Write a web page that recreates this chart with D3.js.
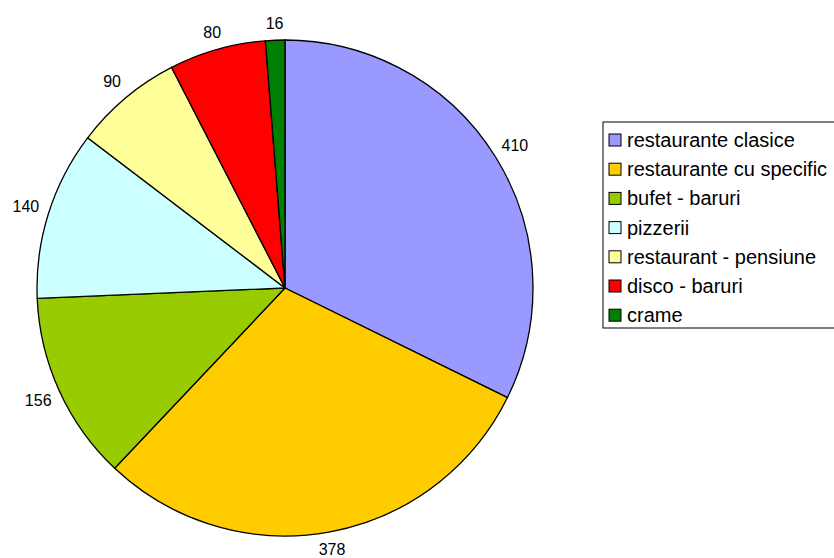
<!DOCTYPE html>
<html>
<head>
<meta charset="utf-8">
<script src="https://cdn.jsdelivr.net/npm/d3@7"></script>
<style>
  body { margin: 0; background: #fff; }
  text { font-family: "Liberation Sans", Arial, sans-serif; fill: #000; }
</style>
</head>
<body>
<div id="chart"></div>
<script>
// Data
const categories = ["restaurante clasice", "restaurante cu specific", "bufet - baruri",
    "pizzerii", "restaurant - pensiune", "disco - baruri", "crame"];
const values = [410, 378, 156, 140, 90, 80, 16];
const colors = ["#9999FF", "#FFCC00", "#99CC00", "#CCFFFF", "#FFFF99", "#FF0000", "#008000"];

const width = 834, height = 558;
const cx = 285, cy = 288, radius = 248;

const data = categories.map((c, i) => ({ name: c, value: values[i], color: colors[i] }));

const svg = d3.select("#chart")
    .append("svg")
    .attr("width", width)
    .attr("height", height);

// Pie slices, starting at 12 o'clock and going clockwise
const pie = d3.pie().value(d => d.value).sort(null);
const arc = d3.arc().innerRadius(0).outerRadius(radius);

const g = svg.append("g").attr("transform", "translate(" + cx + "," + cy + ")");

const arcs = pie(data);

g.selectAll(".slice")
    .data(arcs)
    .enter()
        .append("path")
        .attr("class", "slice")
        .attr("d", arc)
        .attr("fill", d => d.data.color)
        .attr("stroke", "#000")
        .attr("stroke-width", 1.3);

// Value labels outside the pie; a bit more room on the sides than at top/bottom
function labelPos(d) {
    const a = (d.startAngle + d.endAngle) / 2;
    const r = radius + 16 + 8 * Math.abs(Math.sin(a));
    return [r * Math.sin(a), -r * Math.cos(a)];
}

g.selectAll(".label")
    .data(arcs)
    .enter()
        .append("text")
        .attr("class", "label")
        .attr("transform", d => "translate(" + labelPos(d) + ")")
        .attr("text-anchor", "middle")
        .attr("dy", "0.35em")
        .style("font-size", "16px")
        .text(d => d.data.value);

// Legend
const legend = svg.append("g").attr("transform", "translate(603,122)");

legend.append("rect")
    .attr("width", 300)
    .attr("height", 206)
    .attr("fill", "#fff")
    .attr("stroke", "#000")
    .attr("stroke-width", 1);

const rowH = 29.2;

const items = legend.selectAll(".item")
    .data(data)
    .enter()
        .append("g")
        .attr("class", "item")
        .attr("transform", (d, i) => "translate(0," + (18 + i * rowH) + ")");

items.append("rect")
    .attr("x", 6)
    .attr("y", -6)
    .attr("width", 12)
    .attr("height", 12)
    .attr("fill", d => d.color)
    .attr("stroke", "#000")
    .attr("stroke-width", 1);

items.append("text")
    .attr("x", 24)
    .attr("dy", "0.35em")
    .style("font-size", "20px")
    .text(d => d.name);
</script>
</body>
</html>
